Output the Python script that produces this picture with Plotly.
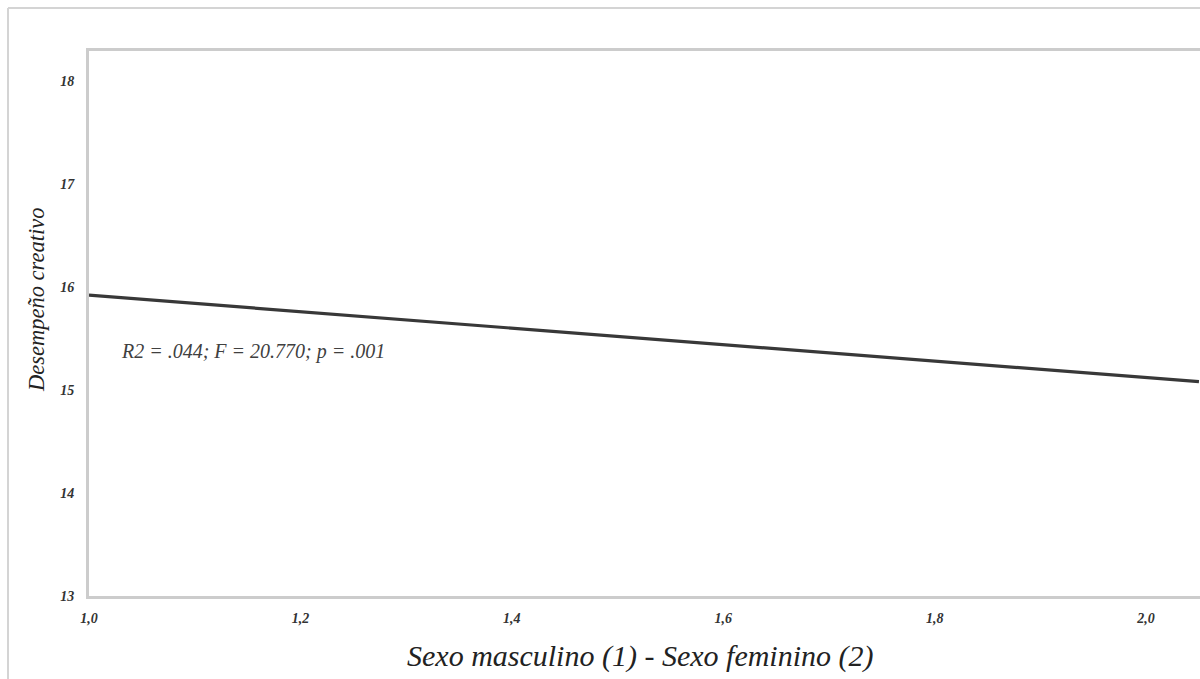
import plotly.graph_objects as go

# Data
x_fit = [1.0, 2.05]
y_fit = [15.92, 15.08]
x_ticks = [1.0, 1.2, 1.4, 1.6, 1.8, 2.0]
x_tick_labels = ["1,0", "1,2", "1,4", "1,6", "1,8", "2,0"]
y_ticks = [13, 14, 15, 16, 17, 18]
y_tick_labels = ["13", "14", "15", "16", "17", "18"]
stats_text = "R2 = .044; F = 20.770; p = .001"
x_title = "Sexo masculino (1) - Sexo feminino (2)"
y_title = "Desempeño creativo"

W, H = 1200, 679
ML, MR, MT = 89, 0, 51
PLOT_BOTTOM = 596
MB = H - PLOT_BOTTOM
PW, PH = W - ML - MR, H - MT - MB

def px_to_paper_x(px):
    return (px - ML) / PW

def px_to_paper_y(py):
    return (PLOT_BOTTOM - py) / PH

serif = "Liberation Serif"

fig = go.Figure()
fig.add_trace(go.Scatter(
    x=x_fit, y=y_fit, mode="lines",
    line=dict(color="#383838", width=3.2),
    hoverinfo="skip", showlegend=False,
))

fig.update_layout(
    width=W, height=H,
    margin=dict(l=ML, r=MR, t=MT, b=MB),
    paper_bgcolor="white", plot_bgcolor="white",
    showlegend=False,
    xaxis=dict(
        range=[1.0, 2.051], tickvals=x_ticks, ticktext=x_tick_labels,
        showgrid=False, zeroline=False,
        showline=True, linecolor="#cccccc", linewidth=3, mirror=True,
        ticks="", ticklabelstandoff=7,
        tickfont=dict(family=serif, size=14, color="#333333", style="italic", weight="bold"),
    ),
    yaxis=dict(
        range=[13, 18.29], tickvals=y_ticks, ticktext=y_tick_labels,
        showgrid=False, zeroline=False,
        showline=True, linecolor="#cccccc", linewidth=3,
        ticks="", ticklabelstandoff=9,
        tickfont=dict(family=serif, size=14, color="#333333", style="italic", weight="bold"),
    ),
    annotations=[
        dict(x=1.028, y=15.37, xref="x", yref="y", text=stats_text, showarrow=False,
             xanchor="left", yanchor="middle",
             font=dict(family=serif, size=20, color="#404040", style="italic")),
        dict(x=px_to_paper_x(640), y=px_to_paper_y(656), xref="paper", yref="paper",
             text=x_title, showarrow=False, xanchor="center", yanchor="middle",
             font=dict(family=serif, size=30, color="#222222", style="italic")),
        dict(x=px_to_paper_x(36), y=px_to_paper_y(300), xref="paper", yref="paper",
             text=y_title, showarrow=False, textangle=-90, xanchor="center", yanchor="middle",
             font=dict(family=serif, size=22.5, color="#222222", style="italic")),
    ],
    shapes=[
        dict(type="line", xref="paper", yref="paper",
             x0=px_to_paper_x(8), x1=px_to_paper_x(1210), y0=px_to_paper_y(8), y1=px_to_paper_y(8),
             line=dict(color="#d4d4d4", width=2), layer="above"),
        dict(type="line", xref="paper", yref="paper",
             x0=px_to_paper_x(8), x1=px_to_paper_x(8), y0=px_to_paper_y(8), y1=px_to_paper_y(690),
             line=dict(color="#d4d4d4", width=2), layer="above"),
    ],
)

fig.write_html("out.html", config={"displayModeBar": False},
               post_script="document.body.style.margin='0';")
